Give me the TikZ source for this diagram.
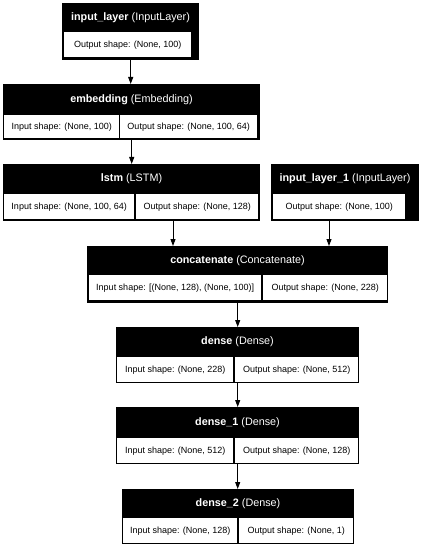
\documentclass[tikz,border=0pt]{standalone}
\usepackage{fontspec}
\setmainfont{Liberation Sans}
\usetikzlibrary{arrows.meta}
\tikzset{
    layerbox/.style={fill=black, inner sep=0pt, anchor=north west},
    cellbox/.style={fill=white, inner sep=0pt, anchor=north west, font=\fontsize{9}{10}\selectfont},
    titletext/.style={text=white, inner sep=0pt, font=\fontsize{10.8}{12}\selectfont},
    arr/.style={-{Triangle[length=7pt,width=5pt]}, line width=0.9pt}
}
\begin{document}
\begin{tikzpicture}[x=1pt,y=-1pt]
    \useasboundingbox (0,0) rectangle (421,548);
    \node[layerbox, minimum width=137pt, minimum height=57pt] (inp) at (62,3) {};
    \node[titletext] (inptitle) at (130.5,17.5) {\textbf{input\_layer} (InputLayer)};
    \node[cellbox, minimum width=127pt, minimum height=25pt] (inpout) at (64,32) {Output shape: (None, 100)};

    \node[layerbox, minimum width=257pt, minimum height=56pt] (emb) at (3,84) {};
    \node[titletext] (embtitle) at (131.5,99.5) {\textbf{embedding} (Embedding)};
    \node[cellbox, minimum width=115pt, minimum height=23pt] (embin) at (4,115) {Input shape: (None, 100)};
    \node[cellbox, minimum width=137pt, minimum height=23pt] (embout) at (120,115) {Output shape: (None, 100, 64)};

    \node[layerbox, minimum width=257pt, minimum height=57pt] (lstm) at (3,164) {};
    \node[titletext] (lstmtitle) at (131.5,179) {\textbf{lstm} (LSTM)};
    \node[cellbox, minimum width=130pt, minimum height=25pt] (lstmin) at (4,194) {Input shape: (None, 100, 64)};
    \node[cellbox, minimum width=122pt, minimum height=25pt] (lstmout) at (136,194) {Output shape: (None, 128)};

    \node[layerbox, minimum width=148pt, minimum height=57pt] (inp1) at (271,164) {};
    \node[titletext] (inp1title) at (345,179) {\textbf{input\_layer\_1} (InputLayer)};
    \node[cellbox, minimum width=132pt, minimum height=25pt] (inp1out) at (273,194) {Output shape: (None, 100)};

    \node[layerbox, minimum width=301pt, minimum height=57pt] (concat) at (87,246) {};
    \node[titletext] (concattitle) at (237.5,260.5) {\textbf{concatenate} (Concatenate)};
    \node[cellbox, minimum width=172pt, minimum height=25pt] (concatin) at (89,275) {Input shape: [(None, 128), (None, 100)]};
    \node[cellbox, minimum width=124pt, minimum height=25pt] (concatout) at (263,275) {Output shape: (None, 228)};

    \node[layerbox, minimum width=243pt, minimum height=56pt] (dense) at (116,327) {};
    \node[titletext] (densetitle) at (237.5,342) {\textbf{dense} (Dense)};
    \node[cellbox, minimum width=116pt, minimum height=25pt] (densein) at (117,357) {Input shape: (None, 228)};
    \node[cellbox, minimum width=123pt, minimum height=25pt] (denseout) at (235,357) {Output shape: (None, 512)};

    \node[layerbox, minimum width=243pt, minimum height=57pt] (denseA) at (116,407) {};
    \node[titletext] (denseAtitle) at (237.5,422.5) {\textbf{dense\_1} (Dense)};
    \node[cellbox, minimum width=116pt, minimum height=25pt] (denseAin) at (117,438) {Input shape: (None, 512)};
    \node[cellbox, minimum width=123pt, minimum height=25pt] (denseAout) at (235,438) {Output shape: (None, 128)};

    \node[layerbox, minimum width=232pt, minimum height=55pt] (denseB) at (122,489) {};
    \node[titletext] (denseBtitle) at (238,503.5) {\textbf{dense\_2} (Dense)};
    \node[cellbox, minimum width=114pt, minimum height=25pt] (denseBin) at (123,518) {Input shape: (None, 128)};
    \node[cellbox, minimum width=114pt, minimum height=25pt] (denseBout) at (239,518) {Output shape: (None, 1)};

    \coordinate (lstmport) at (173,221);
    \coordinate (inp1port) at (329,221);
    \draw[arr] (inp.south) -- (inp.south |- emb.north);
    \draw[arr] (emb.south) -- (emb.south |- lstm.north);
    \draw[arr] (lstmport) -- (lstmport |- concat.north);
    \draw[arr] (inp1port) -- (inp1port |- concat.north);
    \draw[arr] (concat.south) -- (dense.north);
    \draw[arr] (dense.south) -- (denseA.north);
    \draw[arr] (denseA.south) -- (denseA.south |- denseB.north);
\end{tikzpicture}
\end{document}
